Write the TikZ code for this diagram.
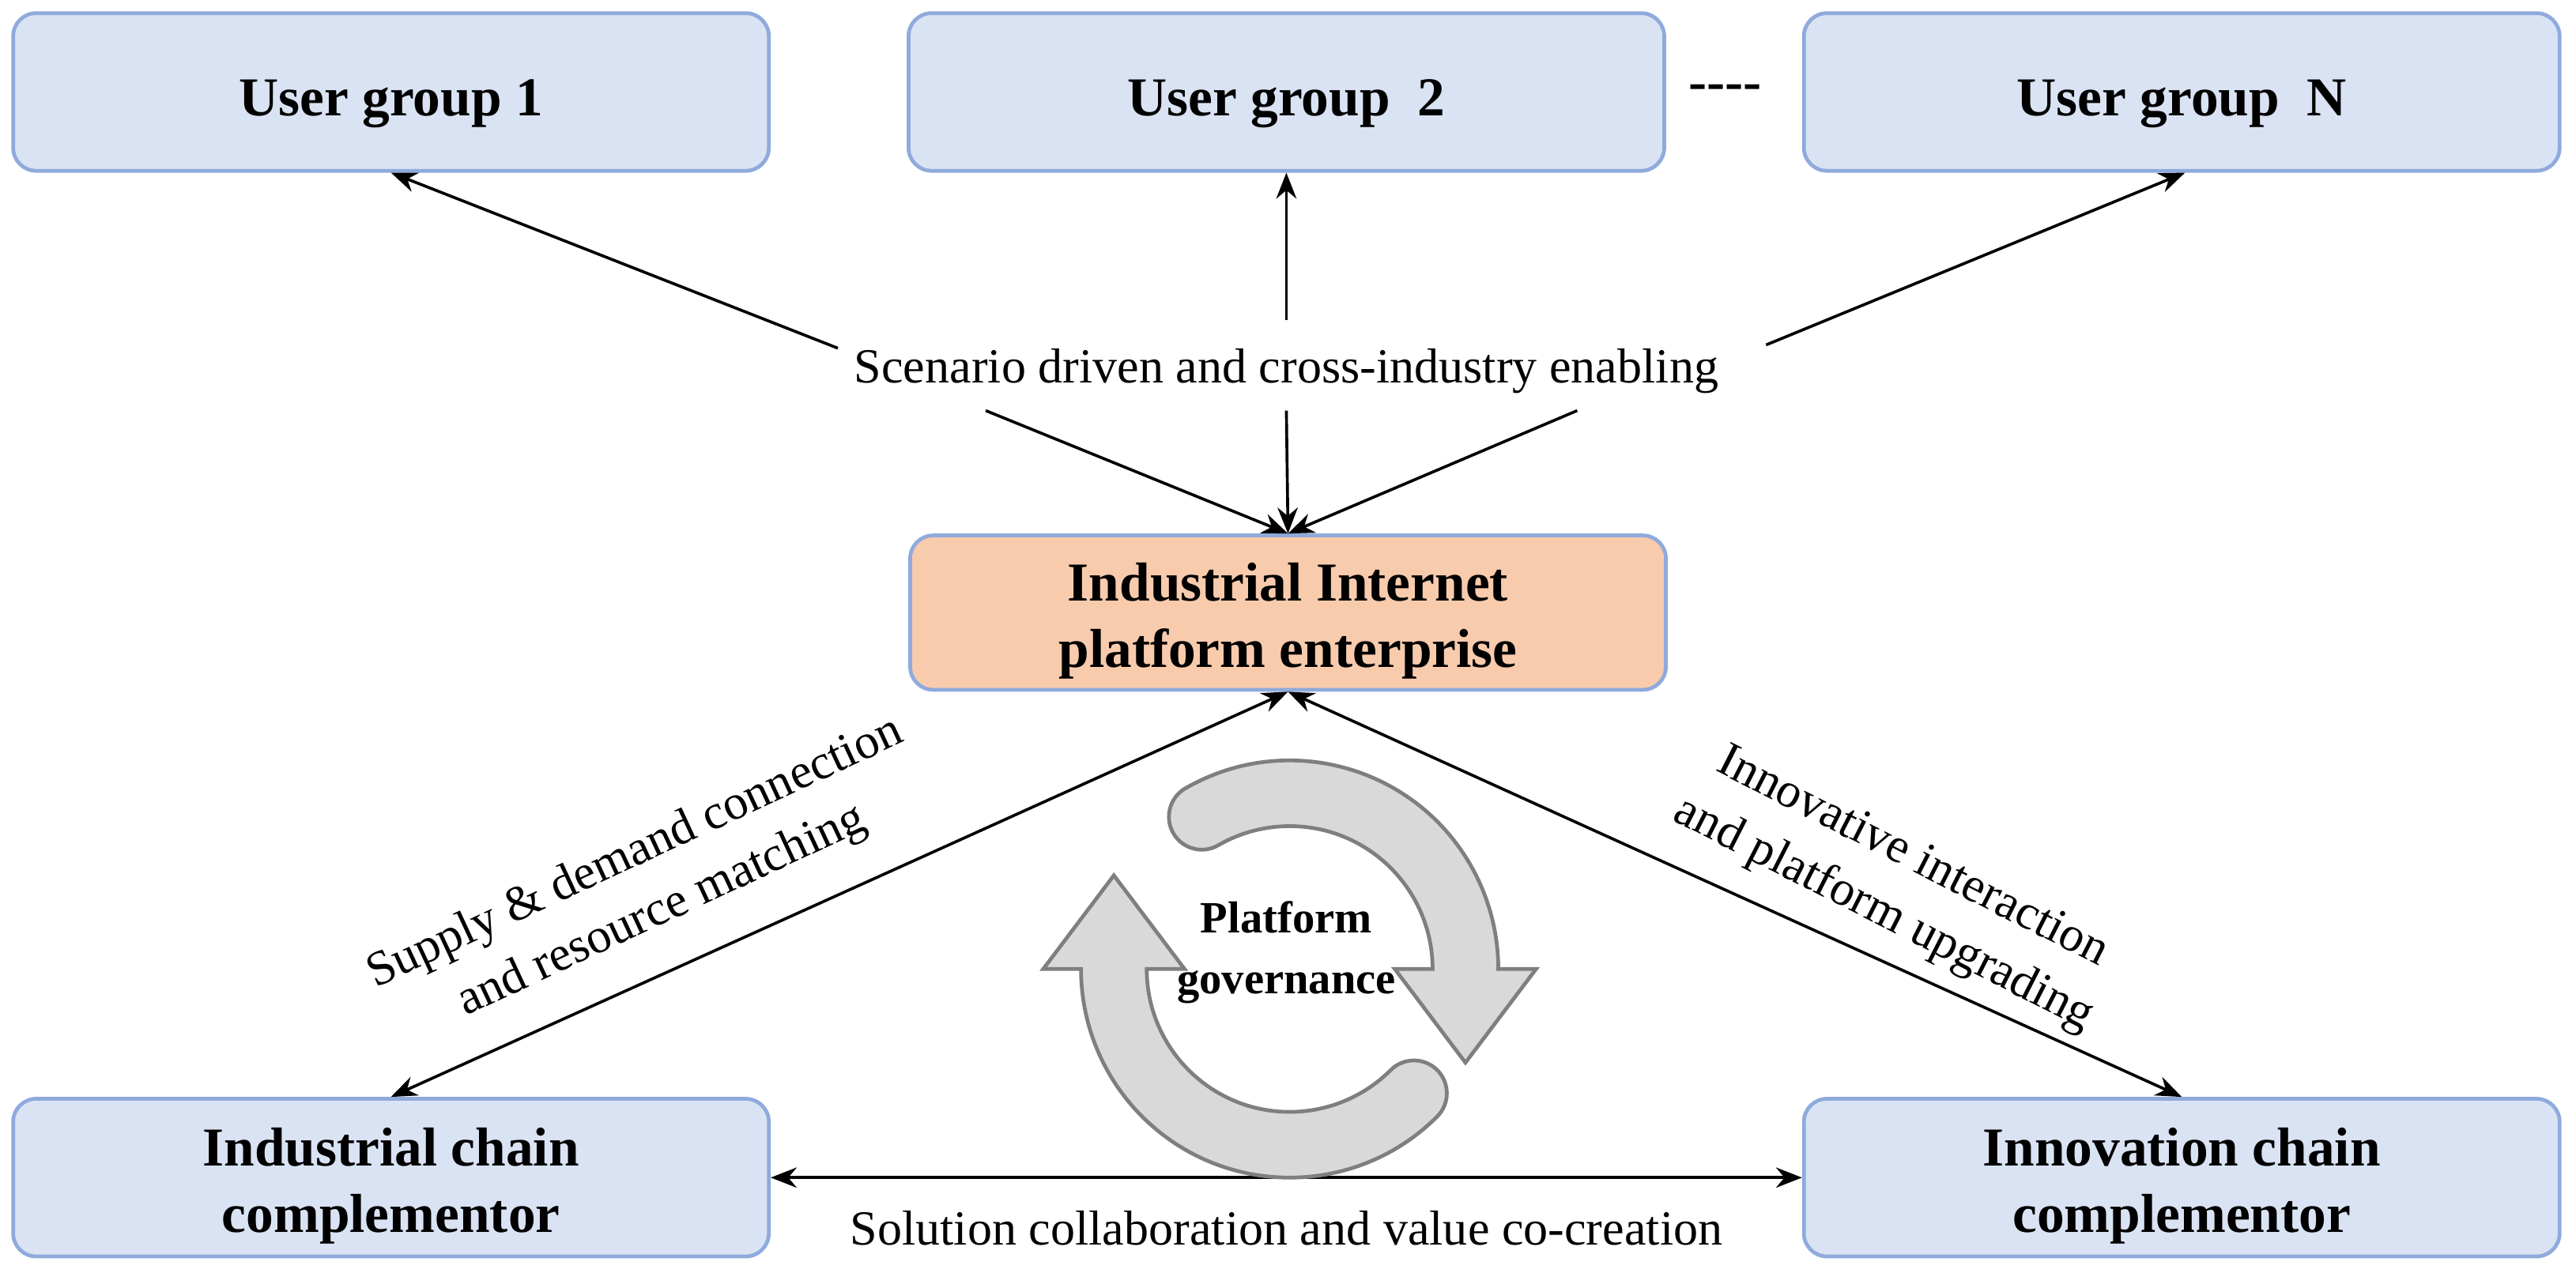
\documentclass[tikz,border=0pt]{standalone}
\usepackage{fontspec}
\setmainfont{Liberation Serif}
\usetikzlibrary{arrows.meta,calc}
\definecolor{boxfill}{HTML}{DAE3F3}
\definecolor{boxline}{HTML}{8FAADC}
\definecolor{orfill}{HTML}{F8CBAD}
\definecolor{cyc}{HTML}{D9D9D9}
\definecolor{cycl}{HTML}{7F7F7F}
\begin{document}
\begin{tikzpicture}[
  box/.style={draw=boxline, line width=1.3pt, fill=boxfill, rounded corners=8pt, minimum width=9.2cm, minimum height=1.92cm},
  btxt/.style={align=center, font=\fontsize{19}{23}\selectfont\bfseries},
  lbl/.style={font=\fontsize{17}{22}\selectfont, align=center},
  arr/.style={-{Stealth[length=9pt,width=7pt]}, line width=1pt},
  darr/.style={{Stealth[length=9pt,width=7pt]}-{Stealth[length=9pt,width=7pt]}, line width=1pt},
  cycs/.style={fill=cyc, draw=cycl, line width=1.3pt}
]
\useasboundingbox (0,0) rectangle (31.36,-15.5);
\node[box] (ug1) at (4.76,-1.12) {};
\node[box] (ug2) at (15.66,-1.12) {};
\node[box] (ugn) at (26.56,-1.12) {};
\node[box, fill=orfill, minimum height=1.88cm] (ctr) at (15.68,-7.46) {};
\node[box] (ic) at (4.76,-14.34) {};
\node[box] (in) at (26.56,-14.34) {};
\node[btxt] (ug1t) at ([yshift=-4pt]ug1.center) {User group 1};
\node[btxt] (ug2t) at ([yshift=-4pt]ug2.center) {User group~~2};
\node[btxt] (ugnt) at ([yshift=-4pt]ugn.center) {User group~~N};
\node[btxt] (ctrt) at ([yshift=-3pt]ctr.center) {Industrial Internet\\platform enterprise};
\node[btxt] (ict) at ([yshift=-3pt]ic.center) {Industrial chain\\complementor};
\node[btxt] (int) at ([yshift=-3pt]in.center) {Innovation chain\\complementor};
\node[btxt] (dots) at (21.0,-1.12) {{-}{-}{-}{-}};
\node[lbl] (scen) at (15.66,-4.52) {Scenario driven and cross-industry enabling};
\coordinate (s1) at (10.2,-4.24);
\coordinate (s2) at (15.66,-3.9);
\coordinate (s3) at (21.5,-4.2);
\coordinate (t1) at (12,-5);
\coordinate (t2) at (15.66,-5.0);
\coordinate (t3) at (19.2,-5);
\draw[arr] (s1) -- (ug1.south);
\draw[arr] (s2) -- (ug2.south);
\draw[arr] (s3) -- ([xshift=0.04cm]ugn.south);
\draw[arr] (t1) -- (ctr.north);
\draw[arr] (t2) -- (ctr.north);
\draw[arr] (t3) -- (ctr.north);
\draw[darr] (ic.north) -- (ctr.south);
\draw[darr] (ctr.south) -- (in.north);
\draw[darr] (ic.east) -- (in.west);
\node[lbl] (sol) at (15.66,-14.96) {Solution collaboration and value co-creation};
\node[lbl, rotate=25] (sup) at (7.9,-10.75) {Supply \& demand connection\\and resource matching};
\node[lbl, rotate=-27] (inn) at (23.1,-10.8) {Innovative interaction\\and platform upgrading};
% cycle arrows
\coordinate (C) at (15.7,-11.8);
\draw[cycs] ($(C)+(120:2.54)$) arc[start angle=120, end angle=0, radius=2.54]
  -- ++(0.46,0) -- ++(-0.86,-1.14) -- ++(-0.86,1.14) -- ++(0.46,0)
  arc[start angle=0, end angle=120, radius=1.74]
  arc[start angle=-60, end angle=-240, radius=0.4] -- cycle;
\draw[cycs] ($(C)+(-45:2.54)$) arc[start angle=-45, end angle=-180, radius=2.54]
  -- ++(-0.46,0) -- ++(0.86,1.14) -- ++(0.86,-1.14) -- ++(-0.46,0)
  arc[start angle=-180, end angle=-45, radius=1.74]
  arc[start angle=135, end angle=-45, radius=0.4] -- cycle;
\node[font=\fontsize{15.5}{21}\selectfont\bfseries, align=center] (pg) at (15.66,-11.6) {Platform\\governance};
\end{tikzpicture}
\end{document}
